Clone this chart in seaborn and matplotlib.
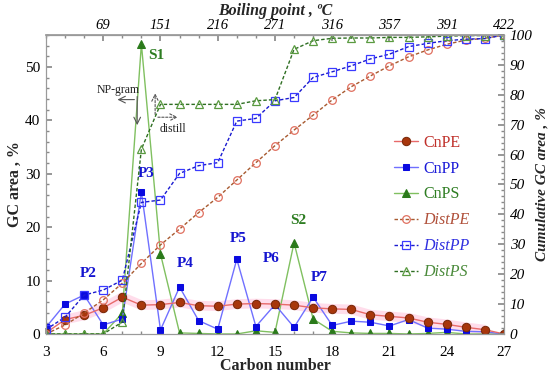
import numpy as np
import pandas as pd
import seaborn as sns
import matplotlib
matplotlib.use("Agg")
import matplotlib.pyplot as plt
from matplotlib.ticker import MultipleLocator

# ---------------- data ----------------
carbon = list(range(3, 28))
cn_pe = [0.2, 2.7, 3.5, 4.9, 6.9, 5.4, 5.5, 5.9, 5.3, 5.2, 5.6, 5.7, 5.6, 5.4,
         4.9, 4.7, 4.6, 3.6, 3.3, 3.0, 2.2, 1.8, 1.25, 0.8, 0.0]
cn_pp = [1.25, 5.6, 7.3, 1.7, 2.8, 26.6, 0.75, 8.8, 2.5, 0.9, 14.0, 1.4, 5.5, 1.25,
         6.9, 1.6, 2.4, 2.2, 1.5, 2.7, 1.1, 0.9, 0.5, 0.4, 0.0]
cn_ps = [0.0, 0.0, 0.0, 0.0, 3.9, 54.3, 15.0, 0.2, 0.1, 0.0, 0.0, 0.6, 0.3, 17.1,
         2.8, 0.5, 0.2, 0.1, 0.1, 0.0, 0.1, 0.3, 0.0, 0.0, 0.0]
dist_pe = [0.0, 3.0, 7.0, 11.4, 17.0, 23.6, 29.8, 35.1, 40.6, 45.7, 51.5, 57.3, 63.0,
           68.2, 73.2, 78.3, 82.7, 86.3, 89.7, 92.7, 95.0, 96.9, 98.3, 98.9, 100.0]
dist_pp = [1.5, 5.6, 13.0, 14.7, 18.0, 44.0, 44.8, 53.7, 56.3, 57.3, 71.2, 72.1, 78.0,
           79.1, 85.8, 87.7, 89.7, 92.0, 93.6, 96.1, 97.2, 98.1, 98.6, 98.8, 100.0]
dist_ps = [0.0, 0.0, 0.0, 0.0, 4.0, 61.8, 76.8, 76.8, 76.8, 76.8, 76.8, 78.0, 78.4,
           95.2, 98.1, 98.9, 99.0, 99.0, 99.2, 99.2, 99.4, 99.6, 99.8, 99.8, 100.0]

bp_pos = [6, 9, 12, 15, 18, 21, 24, 27]
bp_labels = ["69", "151", "216", "271", "316", "357", "391", "422"]

peak_labels = ["P2", "P3", "P4", "P5", "P6", "P7"]
peak_x = [5.2, 8.25, 10.3, 13.1, 14.8, 17.3]
peak_y = [10.1, 28.8, 12.0, 16.6, 12.9, 9.3]
s_labels = ["S1", "S2"]
s_x = [8.35, 16.2]
s_y = [51.0, 20.0]

# ---------------- style ----------------
sns.set_theme(style="ticks")
plt.rcParams["font.family"] = ["Liberation Serif", "DejaVu Serif"]
plt.rcParams["xtick.direction"] = "in"
plt.rcParams["ytick.direction"] = "in"

fig = plt.figure(figsize=(5.5, 3.83), dpi=100)
ax = fig.add_axes([0.0836, 0.128, 0.8327, 0.7806])
ax2 = ax.twinx()

c_pe_mk, c_pe_ln = "#a8360c", "#e86a6a"
c_pp_mk, c_pp_ln = "#0a0ae0", "#7070ff"
c_ps_mk, c_ps_ln = "#2a7a1a", "#80c060"

# pink highlight behind CnPE
sns.lineplot(x=carbon[1:-1], y=cn_pe[1:-1], ax=ax, color="#ff9ec8", lw=7,
             alpha=0.35, legend=False, solid_capstyle="butt")

sns.lineplot(x=carbon, y=cn_ps, ax=ax, color=c_ps_ln, lw=1.0, marker="^",
             markersize=6, markerfacecolor=c_ps_mk, markeredgecolor=c_ps_mk,
             label="CnPS")
sns.lineplot(x=carbon, y=cn_pp, ax=ax, color=c_pp_ln, lw=1.0, marker="s",
             markersize=5, markerfacecolor=c_pp_mk, markeredgecolor=c_pp_mk,
             label="CnPP")
sns.lineplot(x=carbon, y=cn_pe, ax=ax, color=c_pe_ln, lw=1.0, marker="o",
             markersize=6, markerfacecolor=c_pe_mk, markeredgecolor="#7a2a0a",
             label="CnPE")

sns.lineplot(x=carbon, y=dist_pe, ax=ax2, color="#a85a30", lw=1.0, ls=(0, (2.5, 1.5)),
             marker="o", markersize=5.5, markerfacecolor="none",
             markeredgecolor="#e07060", markeredgewidth=0.9, label="DistPE")
sns.lineplot(x=carbon, y=dist_pp, ax=ax2, color="#1a1ad0", lw=1.0, ls=(0, (2.5, 1.5)),
             marker="s", markersize=5.5, markerfacecolor="none",
             markeredgecolor="#3a3aff", markeredgewidth=0.9, label="DistPP")
sns.lineplot(x=carbon, y=dist_ps, ax=ax2, color="#2e6e22", lw=1.0, ls=(0, (2.5, 1.5)),
             marker="^", markersize=5.5, markerfacecolor="none",
             markeredgecolor="#5a9a40", markeredgewidth=0.9, label="DistPS")

# axes limits & ticks
ax.set_xlim(3, 27)
ax.set_ylim(0, 56)
ax2.set_ylim(0, 100)
ax.set_xticks(range(3, 28, 3))
ax.xaxis.set_minor_locator(MultipleLocator(1))
ax.set_yticks(range(0, 51, 10))
ax.yaxis.set_minor_locator(MultipleLocator(2))
ax2.set_yticks(range(0, 101, 10))
ax2.yaxis.set_minor_locator(MultipleLocator(2))

for a in (ax, ax2):
    for s in a.spines.values():
        s.set_color("#9a9a9a")
        s.set_linewidth(0.8)
ax.tick_params(which="both", colors="#8a8a8a", labelcolor="black", labelsize=11,
               length=4, pad=4)
ax.tick_params(which="minor", length=2.5)
ax.tick_params(axis="x", which="major", pad=9)
ax2.tick_params(which="both", colors="#8a8a8a", labelcolor="black", labelsize=11,
                length=4, pad=4)
ax2.tick_params(which="minor", length=2.5)
for t in ax2.get_yticklabels():
    t.set_fontstyle("italic")

# top axis: boiling point
top = ax.secondary_xaxis("top")
top.set_xticks(bp_pos)
top.set_xticklabels(bp_labels, fontstyle="italic", fontsize=10.5)
top.xaxis.set_minor_locator(MultipleLocator(1))
top.tick_params(which="both", direction="in", colors="#8a8a8a", labelcolor="black",
                length=4, pad=2)
top.tick_params(which="minor", length=2.5)
top.spines["top"].set_color("#9a9a9a")
top.set_xlabel("Boiling point , ºC", fontweight="bold", fontstyle="italic",
               fontsize=11.5, labelpad=3)

ax.set_xlabel("Carbon number", fontweight="bold", fontsize=11.5, labelpad=-1)
ax.set_ylabel("GC area , %", fontweight="bold", fontsize=11.5, labelpad=2)
ax2.set_ylabel("Cumulative GC area , %", fontweight="bold", fontstyle="italic",
               fontsize=11, labelpad=2)

# annotations
for lab, xx, yy in zip(peak_labels, peak_x, peak_y):
    ax.text(xx, yy, lab, color="#1515d0", fontweight="bold", fontsize=11,
            ha="center", va="bottom")
for lab, xx, yy in zip(s_labels, s_x, s_y):
    ax.text(xx, yy, lab, color="#2e7d22", fontweight="bold", fontsize=11,
            ha="center" if lab == "S2" else "left", va="bottom")

# NP-gram arrows
ax.annotate("", xy=(6.6, 43.9), xytext=(7.78, 43.9),
            arrowprops=dict(arrowstyle="->", color="#555555", lw=0.8))
ax.annotate("", xy=(7.78, 38.6), xytext=(7.78, 45.0),
            arrowprops=dict(arrowstyle="->", color="#555555", lw=0.8))
ax.text(6.8, 44.6, "NP-gram", fontsize=8.5, ha="center", va="bottom", color="#222222")
# distill arrows
ax.annotate("", xy=(8.72, 45.6), xytext=(8.72, 40.6),
            arrowprops=dict(arrowstyle="->", color="#555555", lw=0.8, ls=(0, (2, 1.5))))
ax.annotate("", xy=(10.05, 40.6), xytext=(8.72, 40.6),
            arrowprops=dict(arrowstyle="->", color="#555555", lw=0.8, ls=(0, (2, 1.5))))
ax.text(9.65, 39.6, "distill", fontsize=8.5, ha="center", va="top", color="#222222")

# legend
if ax.get_legend():
    ax.get_legend().remove()
h1, l1 = ax.get_legend_handles_labels()
h2, l2 = ax2.get_legend_handles_labels()
order = ["CnPE", "CnPP", "CnPS"]
hmap = dict(zip(l1, h1))
handles = [hmap[k] for k in order] + h2
labels = order + l2
if ax2.get_legend():
    ax2.get_legend().remove()
leg = ax2.legend(handles, labels, loc="upper left", bbox_to_anchor=(0.705, 0.665),
                 bbox_transform=fig.transFigure, frameon=False, fontsize=11.5,
                 handlelength=1.5, handletextpad=0.3, labelspacing=0.62,
                 borderaxespad=0)
txt_colors = ["#c0302a", "#1a1ad8", "#2e7d22", "#b0503a", "#3030e0", "#4a8a3a"]
for t, c in zip(leg.get_texts(), txt_colors):
    t.set_color(c)
for t in leg.get_texts()[3:]:
    t.set_fontstyle("italic")

fig.savefig("out.png", dpi=100)
